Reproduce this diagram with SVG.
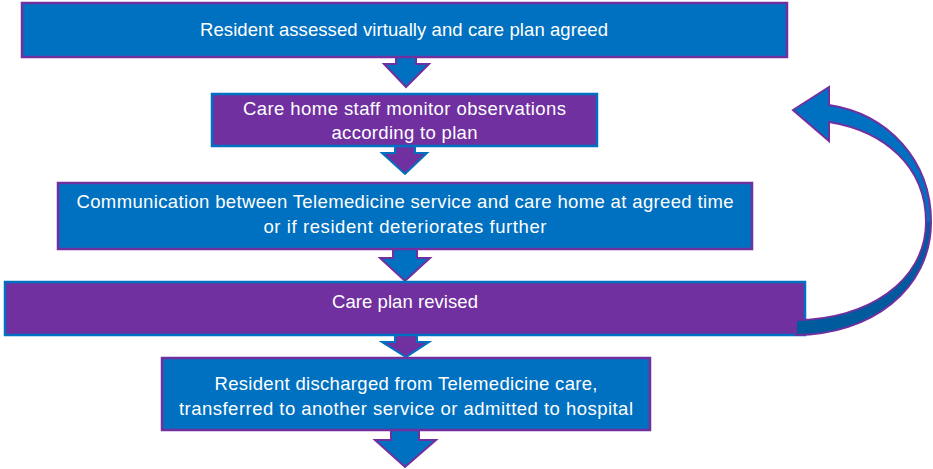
<svg xmlns="http://www.w3.org/2000/svg" width="933" height="469" viewBox="0 0 933 469">
<style>
.bb{fill:#0070C0;stroke:#7030A0;stroke-width:2.5}
.pb{fill:#7030A0;stroke:#0070C0;stroke-width:2.5}
.ab{fill:#0070C0;stroke:#7030A0;stroke-width:2}
.ap{fill:#7030A0;stroke:#0070C0;stroke-width:2}
text{font-family:"Liberation Sans",Arial,sans-serif;font-size:18.5px;fill:#ffffff;text-anchor:middle}
</style>
<rect width="933" height="469" fill="#ffffff"/>
<g id="connectors">
<polygon class="ab" points="396,55 416,55 416,64 429,64 406,87 384,64 396,64"/>
<polygon class="ap" points="395,144 415,144 415,153 427,153 405,174 382,153 395,153"/>
<polygon class="ab" points="393,247 417,247 417,258 430,258 405,281 380,258 393,258"/>
<polygon class="ap" points="395,333 417,333 417,342 429,342 406,357 382,342 395,342"/>
<polygon class="ab" points="391,428 419,428 419,440 436,440 405,467 375,440 391,440"/>
</g>
<g id="n1"><rect class="bb" x="22" y="3" width="765" height="54"/><text x="404" y="36" textLength="408">Resident assessed virtually and care plan agreed</text></g>
<g id="n2"><rect class="pb" x="212" y="94" width="385" height="52"/><text x="404.5" y="115" textLength="323">Care home staff monitor observations</text><text x="404.5" y="139" textLength="146">according to plan</text></g>
<g id="n3"><rect class="bb" x="58" y="183" width="694" height="66"/><text x="405" y="208" textLength="657">Communication between Telemedicine service and care home at agreed time</text><text x="405" y="233" textLength="283">or if resident deteriorates further</text></g>
<g id="n4"><rect class="pb" x="5" y="282" width="800" height="53"/><text x="405" y="308" textLength="146">Care plan revised</text></g>
<g id="n5"><rect class="bb" x="162" y="358" width="488" height="72"/><text x="406" y="390" textLength="383">Resident discharged from Telemedicine care,</text><text x="406" y="415" textLength="454">transferred to another service or admitted to hospital</text></g>
<g id="loop">
<path d="M793,110 L829,87 L829,105 C888,114 931,160 931,222 C931,290 870,335 796,335 L796,320 C866,320 926,282 926,222 C926,166 884,131 829,122 L829,141 Z" fill="#0070C0"/>
<path d="M931,222 C931,290 870,335 796,335 L796,320 C866,320 926,282 926,222 Z" fill="#005A9E"/>
<path d="M793,110 L829,87 L829,105 C888,114 931,160 931,222 C931,290 870,335 796,335 L796,320 C866,320 926,282 926,222 C926,166 884,131 829,122 L829,141 Z" fill="none" stroke="#7030A0" stroke-width="2" stroke-linejoin="miter"/>
</g>
</svg>
